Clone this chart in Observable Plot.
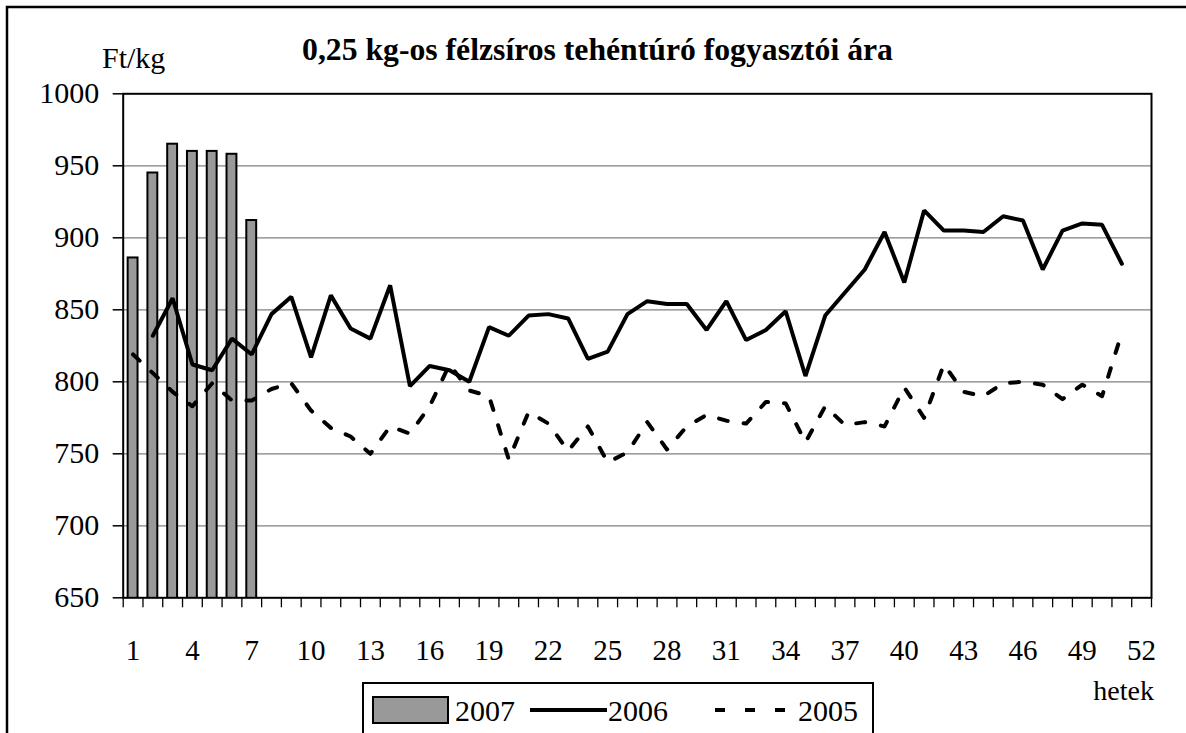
<!DOCTYPE html>
<html>
<head>
<meta charset="utf-8">
<script src="https://cdn.jsdelivr.net/npm/d3@7"></script>
<script src="https://cdn.jsdelivr.net/npm/@observablehq/plot@0.6"></script>
<style>
  html, body { margin: 0; padding: 0; background: #fff; }
  #wrap { position: relative; width: 1186px; height: 733px; overflow: hidden; background: #fff; }
  #wrap > svg { position: absolute; left: 0; top: 0; }
  #overlay { pointer-events: none; }
</style>
</head>
<body>
<div id="wrap"></div>
<script>
// ---- data ----
const weeks = [1,2,3,4,5,6,7,8,9,10,11,12,13,14,15,16,17,18,19,20,21,22,23,24,25,26,
  27,28,29,30,31,32,33,34,35,36,37,38,39,40,41,42,43,44,45,46,47,48,49,50,51,52];
const labelWeeks = [1,4,7,10,13,16,19,22,25,28,31,34,37,40,43,46,49,52];
const yTicks = [650,700,750,800,850,900,950,1000];
const gridTicks = [700,750,800,850,900,950];

const weeks2007 = [1,2,3,4,5,6,7];
const values2007 = [886,945,965,960,960,958,912];

const weeks2006 = [2,3,4,5,6,7,8,9,10,11,12,13,14,15,16,17,18,19,20,21,22,23,24,25,26,
  27,28,29,30,31,32,33,34,35,36,37,38,39,40,41,42,43,44,45,46,47,48,49,50,51];
const values2006 = [832,858,812,808,830,819,847,859,817,860,837,830,867,797,811,808,800,838,
  832,846,847,844,816,821,847,856,854,854,836,856,829,836,849,804,846,862,878,904,869,919,
  905,905,904,915,912,878,905,910,909,882];

const weeks2005 = [1,2,3,4,5,6,7,8,9,10,11,12,13,14,15,16,17,18,19,20,21,22,23,24,25,26,
  27,28,29,30,31,32,33,34,35,36,37,38,39,40,41,42,43,44,45,46,47,48,49,50,51];
const values2005 = [819,806,793,783,799,787,787,795,799,780,768,762,750,769,764,783,812,794,
  790,746,779,771,752,769,744,751,772,753,769,777,773,771,786,785,758,783,770,772,769,796,
  775,812,793,790,799,800,798,788,798,790,834];

const seriesNames = ["2007","2006","2005"];
const titleText = "0,25 kg-os félzsíros tehéntúró fogyasztói ára";
const yLabel = "Ft/kg";
const xLabel = "hetek";

// ---- build tables ----
const d2007 = weeks2007.map((w,i) => ({week: w, value: values2007[i]}));
const d2006 = weeks2006.map((w,i) => ({week: w, value: values2006[i]}));
const d2005 = weeks2005.map((w,i) => ({week: w, value: values2005[i]}));

const W = 1186, H = 733;
const mL = 122.7, mR = 35, mT = 93.3, mB = 135.7;
const step = (W - mL - mR) / weeks.length;
const FONT = "Liberation Serif, Times New Roman, serif";

const chart = Plot.plot({
  width: W, height: H,
  marginLeft: mL, marginRight: mR, marginTop: mT, marginBottom: mB,
  style: {fontFamily: FONT, fontSize: "30px", color: "#000", background: "transparent", overflow: "visible"},
  x: {type: "band", domain: weeks, paddingInner: 0.5, paddingOuter: 0.25},
  y: {domain: [yTicks[0], yTicks[yTicks.length - 1]]},
  marks: [
    Plot.gridY({ticks: gridTicks, stroke: "#808080", strokeOpacity: 1, strokeWidth: 1.3}),
    Plot.barY(d2007, {x: "week", y: "value", fill: "#999999", stroke: "#000", strokeWidth: 2, clip: true}),
    Plot.line(d2005, {x: "week", y: "value", stroke: "#000", strokeWidth: 4, strokeDasharray: "9,16"}),
    Plot.line(d2006, {x: "week", y: "value", stroke: "#000", strokeWidth: 4, strokeLinejoin: "miter"}),
    Plot.frame({stroke: "#000", strokeWidth: 2}),
    Plot.axisY({ticks: yTicks, tickSize: 10, tickPadding: 14, fontSize: 30, fontFamily: FONT, strokeWidth: 1.5,
      tickFormat: d => String(d), label: null}),
    Plot.axisX({ticks: weeks, tickSize: 10, tickFormat: () => "", dx: -step / 2, strokeWidth: 1.3, label: null}),
    Plot.axisX({ticks: [weeks[weeks.length - 1]], tickSize: 10, tickFormat: () => "", dx: step / 2, strokeWidth: 1.3, label: null}),
    Plot.axisX({ticks: labelWeeks, tickSize: 0, tickPadding: 42, fontSize: 29, fontFamily: FONT, tickFormat: d => String(d), label: null})
  ]
});
document.getElementById("wrap").appendChild(chart);

// ---- overlay: frame, title, axis names, legend ----
const ov = d3.select("#wrap").append("svg").attr("id", "overlay")
  .attr("width", W).attr("height", H)
  .style("font-family", FONT);

ov.append("rect").attr("x", 7).attr("y", 7).attr("width", 1220).attr("height", 820)
  .attr("fill", "none").attr("stroke", "#000").attr("stroke-width", 2.5);

ov.append("text").attr("x", 597.5).attr("y", 60).attr("text-anchor", "middle")
  .attr("font-size", 31.7).attr("font-weight", "bold").text(titleText);
ov.append("text").attr("x", 102).attr("y", 68).attr("font-size", 30).text(yLabel);
ov.append("text").attr("x", 1154).attr("y", 700).attr("text-anchor", "end").attr("font-size", 28).text(xLabel);

const lg = ov.append("g");
lg.append("rect").attr("x", 363).attr("y", 683).attr("width", 510).attr("height", 80)
  .attr("fill", "#fff").attr("stroke", "#000").attr("stroke-width", 2);
const legendItems = [
  {name: seriesNames[0], kind: "bar", x0: 373, x1: 448, tx: 455},
  {name: seriesNames[1], kind: "solid", x0: 530, x1: 607, tx: 608},
  {name: seriesNames[2], kind: "dash", x0: 715, x1: 786, tx: 798}
];
for (const it of legendItems) {
  if (it.kind === "bar") {
    lg.append("rect").attr("x", it.x0).attr("y", 697).attr("width", it.x1 - it.x0).attr("height", 26)
      .attr("fill", "#999999").attr("stroke", "#000").attr("stroke-width", 2);
  } else {
    lg.append("line").attr("x1", it.x0).attr("x2", it.x1).attr("y1", 710).attr("y2", 710)
      .attr("stroke", "#000").attr("stroke-width", 4)
      .attr("stroke-dasharray", it.kind === "dash" ? "10,20" : null);
  }
  lg.append("text").attr("x", it.tx).attr("y", 721).attr("font-size", 30).text(it.name);
}
</script>
</body>
</html>
